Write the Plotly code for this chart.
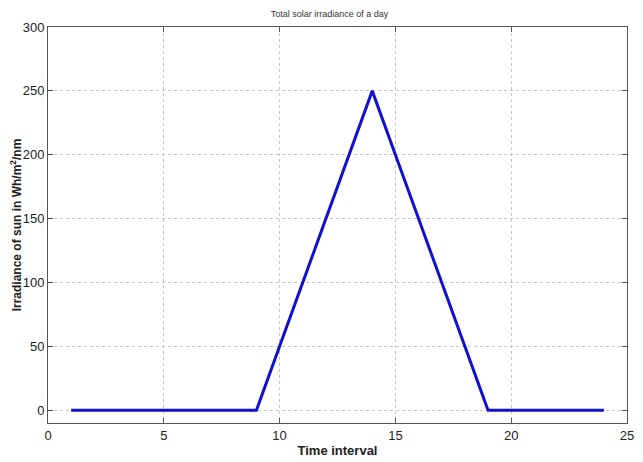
import plotly.graph_objects as go

time_interval = list(range(1, 25))
irradiance = [0, 0, 0, 0, 0, 0, 0, 0, 0,
              50, 100, 150, 200, 250,
              200, 150, 100, 50, 0,
              0, 0, 0, 0, 0]

x_ticks = [0, 5, 10, 15, 20, 25]
y_ticks = [0, 50, 100, 150, 200, 250, 300]

fig = go.Figure()
fig.add_trace(go.Scatter(x=time_interval, y=irradiance, mode="lines",
                         line=dict(color="#1010d0", width=3), showlegend=False))

font_fam = "Liberation Sans Narrow, Arial Narrow, Liberation Sans, Arial"
axis_common = dict(showline=True, mirror="ticks", linecolor="#555555", linewidth=1,
                   showgrid=True, gridcolor="#c4c4c4", griddash="dot", gridwidth=1,
                   ticks="inside", ticklen=5, tickcolor="#555555", zeroline=False,
                   automargin=False,
                   tickfont=dict(family=font_fam, size=13, color="#222222"))

fig.update_layout(
    width=643, height=462,
    paper_bgcolor="white", plot_bgcolor="white",
    margin=dict(l=40, r=24, t=19, b=47),
    title=dict(text="Total solar irradiance of a day", x=0.5, xanchor="center",
               y=0.987, yanchor="middle",
               font=dict(family=font_fam, size=9, color="#333333")),
    xaxis=dict(range=[0, 25], tickvals=x_ticks,
               title=dict(text="<b>Time interval</b>", standoff=4,
                          font=dict(family=font_fam, size=13, color="#222222")),
               **axis_common),
    yaxis=dict(range=[-10, 300], tickvals=y_ticks,
               title=dict(text="<b>Irradiance of sun in Wh/m<sup>2</sup>/nm</b>", standoff=0,
                          font=dict(family="Liberation Sans, Arial", size=12, color="#222222")),
               **axis_common),
)

fig.write_html("out.html")
